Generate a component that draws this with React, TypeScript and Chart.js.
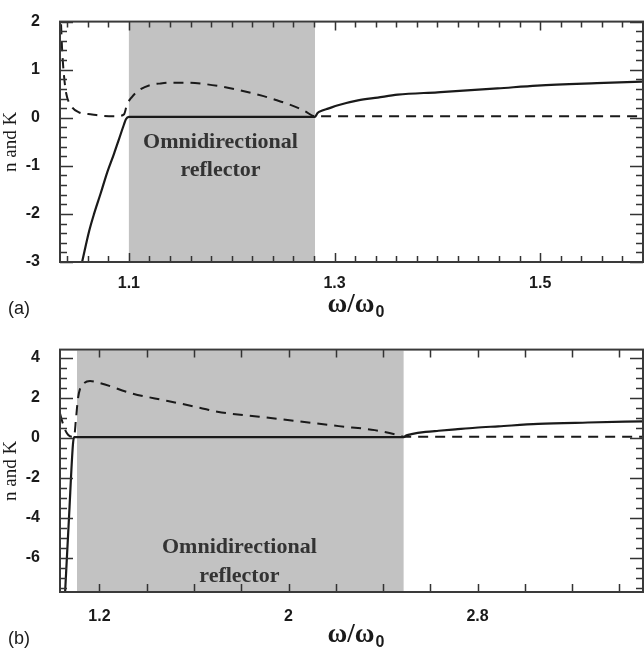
import React, { useEffect, useRef } from 'react';
import { Chart, registerables } from 'chart.js';

Chart.register(...registerables);

// ---------- Panel (a) data ----------
const aNx = [1.0545, 1.0613, 1.0661, 1.0729, 1.0787, 1.0855, 1.0903, 1.0952, 1.0971, 1.1, 1.2, 1.281, 1.2835, 1.288, 1.2937, 1.3034, 1.3228, 1.342, 1.3615, 1.4002, 1.4584, 1.497, 1.555, 1.599];
const aNy = [-3.0, -2.36, -2.0, -1.55, -1.15, -0.75, -0.45, -0.14, -0.03, 0.02, 0.02, 0.02, 0.1, 0.15, 0.19, 0.26, 0.36, 0.42, 0.48, 0.53, 0.61, 0.67, 0.72, 0.75];
const aKx = [1.0335, 1.0341, 1.0351, 1.037, 1.039, 1.0438, 1.0516, 1.0642, 1.0739, 1.0874, 1.0952, 1.0981, 1.1029, 1.1097, 1.1223, 1.129, 1.14, 1.155, 1.17, 1.19, 1.2065, 1.231, 1.243, 1.253, 1.265, 1.271, 1.281, 1.29, 1.6];
const aKy = [2.3, 1.9, 1.4, 0.85, 0.51, 0.25, 0.11, 0.07, 0.04, 0.03, 0.07, 0.27, 0.43, 0.57, 0.69, 0.71, 0.73, 0.73, 0.71, 0.65, 0.58, 0.45, 0.37, 0.3, 0.2, 0.14, 0.03, 0.03, 0.03];
const aBand = [1.1, 1.281];
const aXLabels = [1.1, 1.3, 1.5];
const aYLabels = [-3, -2, -1, 0, 1, 2];

// ---------- Panel (b) data ----------
const bNx = [1.0546, 1.071, 1.088, 1.093, 1.1, 2.487, 2.5, 2.52, 2.58, 2.635, 2.706, 2.79, 2.888, 3.056, 3.267, 3.499];
const bNy = [-7.7, -4.0, -0.3, 0.03, 0.03, 0.03, 0.12, 0.18, 0.29, 0.35, 0.42, 0.5, 0.57, 0.69, 0.76, 0.82];
const bKx = [1.0335, 1.042, 1.0546, 1.067, 1.084, 1.0925, 1.101, 1.109, 1.118, 1.135, 1.16, 1.202, 1.341, 1.484, 1.624, 1.699, 1.876, 2.045, 2.213, 2.365, 2.458, 2.487, 3.5];
const bKy = [1.2, 0.83, 0.39, 0.15, 0.05, 0.05, 1.0, 1.95, 2.45, 2.73, 2.83, 2.73, 2.2, 1.85, 1.5, 1.3, 1.05, 0.82, 0.58, 0.38, 0.15, 0.05, 0.05];
const bBand = [1.105, 2.487];
const bXLabels = [1.2, 2, 2.8];
const bYLabels = [-6, -4, -2, 0, 2, 4];

const bandText = ['Omnidirectional', 'reflector'];

type PanelCfg = {
  letter: string;
  xMin: number; xMax: number; yMin: number; yMax: number;
  nX: number[]; nY: number[]; kX: number[]; kY: number[];
  band: number[];
  xLabels: number[]; yLabels: number[];
  xMinorStart: number; xMinorStep: number; xMajor: number[];
  yMinorStart: number; yMinorStep: number; yMajor: number[];
  textX: number; textY: number[];
  padTop: number; xAxisH: number; xPad: number;
};

const panels: PanelCfg[] = [
  {
    letter: '(a)', xMin: 1.033, xMax: 1.6, yMin: -3, yMax: 2,
    nX: aNx, nY: aNy, kX: aKx, kY: aKy, band: aBand,
    xLabels: aXLabels, yLabels: aYLabels,
    xMinorStart: 1.04, xMinorStep: 0.02, xMajor: [1.1, 1.3, 1.5],
    yMinorStart: -3, yMinorStep: 0.2, yMajor: aYLabels,
    textX: 1.1891, textY: [-0.52, -1.09],
    padTop: 14, xAxisH: 66, xPad: 4,
  },
  {
    letter: '(b)', xMin: 1.033, xMax: 3.5, yMin: -7.7, yMax: 4.4,
    nX: bNx, nY: bNy, kX: bKx, kY: bKy, band: bBand,
    xLabels: bXLabels, yLabels: bYLabels,
    xMinorStart: 1.2, xMinorStep: 0.2, xMajor: [],
    yMinorStart: -7.5, yMinorStep: 0.5, yMajor: bYLabels,
    textX: 1.792, textY: [-5.46, -6.93],
    padTop: 16, xAxisH: 64, xPad: 7,
  },
];

const INK = '#1a1a1a';

function Panel({ cfg }: { cfg: PanelCfg }) {
  const ref = useRef<HTMLCanvasElement | null>(null);
  useEffect(() => {
    if (!ref.current) return;
    const decor = {
      id: 'decor',
      beforeDatasetsDraw(chart: any) {
        const { ctx, chartArea: ca, scales } = chart;
        const x = scales.x;
        ctx.save();
        ctx.fillStyle = '#c2c2c2';
        const x0 = x.getPixelForValue(cfg.band[0]);
        const x1 = x.getPixelForValue(cfg.band[1]);
        ctx.fillRect(x0, ca.top + 1, x1 - x0, ca.bottom - ca.top - 1);
        ctx.fillStyle = '#333';
        ctx.font = 'bold 22px "Liberation Serif"';
        ctx.textAlign = 'center';
        ctx.textBaseline = 'middle';
        const tx = x.getPixelForValue(cfg.textX);
        bandText.forEach((t, i) => ctx.fillText(t, tx, scales.y.getPixelForValue(cfg.textY[i])));
        ctx.restore();
      },
      afterDraw(chart: any) {
        const { ctx, chartArea: ca, scales } = chart;
        const x = scales.x, y = scales.y;
        ctx.save();
        ctx.strokeStyle = '#333';
        ctx.lineWidth = 1.5;
        for (let v = cfg.xMinorStart; v <= cfg.xMax + 1e-9; v += cfg.xMinorStep) {
          const px = Math.round(x.getPixelForValue(v)) + 0.5;
          const major = cfg.xMajor.some((m) => Math.abs(m - v) < 1e-6);
          const len = cfg.xMajor.length ? (major ? 9 : 6) : 8;
          ctx.beginPath();
          ctx.moveTo(px, ca.bottom); ctx.lineTo(px, ca.bottom - len);
          ctx.moveTo(px, ca.top); ctx.lineTo(px, ca.top + len);
          ctx.stroke();
        }
        for (let v = cfg.yMinorStart; v <= cfg.yMax + 1e-9; v += cfg.yMinorStep) {
          const py = Math.round(y.getPixelForValue(v)) + 0.5;
          const major = cfg.yMajor.some((m) => Math.abs(m - v) < 1e-6);
          const len = major ? 13 : 7;
          ctx.beginPath();
          ctx.moveTo(ca.left, py); ctx.lineTo(ca.left + len, py);
          ctx.moveTo(ca.right, py); ctx.lineTo(ca.right - len, py);
          ctx.stroke();
        }
        ctx.lineWidth = 2;
        ctx.strokeStyle = '#3a3a3a';
        ctx.strokeRect(ca.left, ca.top, ca.right - ca.left, ca.bottom - ca.top);
        // x title  ω/ω0
        const cx = (ca.left + ca.right) / 2 + 4;
        const cy = ca.bottom + 44;
        ctx.fillStyle = INK;
        ctx.textBaseline = 'alphabetic';
        ctx.font = 'bold 27px "Liberation Serif"';
        const main = 'ω/ω';
        const mw = ctx.measureText(main).width;
        ctx.font = 'bold 16px "Liberation Sans"';
        const sw = ctx.measureText('0').width;
        const start = cx - (mw + sw) / 2;
        ctx.font = 'bold 27px "Liberation Serif"';
        ctx.textAlign = 'left';
        ctx.fillText(main, start, cy + 6);
        ctx.font = 'bold 16px "Liberation Sans"';
        ctx.fillText('0', start + mw + 1, cy + 11);
        ctx.font = '18px "Liberation Sans"';
        ctx.textBaseline = 'middle';
        ctx.fillText(cfg.letter, 8, ca.bottom + 47);
        ctx.restore();
      },
    };
    const mk = (xs: number[], ys: number[]) => xs.map((v, i) => ({ x: v, y: ys[i] }));
    const chart = new Chart(ref.current, {
      type: 'line',
      data: {
        datasets: [
          { label: 'n', data: mk(cfg.nX, cfg.nY), borderColor: INK, borderWidth: 2.2, pointRadius: 0, fill: false, cubicInterpolationMode: 'monotone' },
          { label: 'K', data: mk(cfg.kX, cfg.kY), borderColor: INK, borderWidth: 2, borderDash: [10, 7], pointRadius: 0, fill: false, cubicInterpolationMode: 'monotone' },
        ],
      },
      options: {
        responsive: false,
        animation: false,
        events: [],
        layout: { padding: { top: cfg.padTop, right: 1, left: 0, bottom: 0 } },
        plugins: { legend: { display: false }, tooltip: { enabled: false } },
        scales: {
          x: {
            type: 'linear', min: cfg.xMin, max: cfg.xMax,
            grid: { display: false }, border: { display: false },
            ticks: { color: INK, font: { family: 'Liberation Sans', size: 16, weight: 'bold' }, padding: cfg.xPad, maxRotation: 0, autoSkip: false, callback: (v: any) => String(v) },
            afterBuildTicks: (s: any) => { s.ticks = cfg.xLabels.map((v) => ({ value: v })); },
            afterFit: (s: any) => { s.height = cfg.xAxisH; },
          },
          y: {
            type: 'linear', min: cfg.yMin, max: cfg.yMax,
            grid: { display: false }, border: { display: false },
            ticks: { color: INK, font: { family: 'Liberation Sans', size: 16, weight: 'bold' }, padding: 12, callback: (v: any) => String(v) },
            afterBuildTicks: (s: any) => { s.ticks = cfg.yLabels.map((v) => ({ value: v })); },
            afterFit: (s: any) => { s.width = 60; },
            title: { display: true, text: 'n and K', color: INK, font: { family: 'Liberation Serif', size: 19 }, padding: { top: 0, bottom: 0 } },
          },
        },
      },
      plugins: [decor],
    } as any);
    return () => chart.destroy();
  }, [cfg]);
  return <canvas ref={ref} width={644} height={328} style={{ display: 'block' }} />;
}

export default function App() {
  useEffect(() => {
    document.body.style.margin = '0';
  }, []);
  return (
    <div style={{ width: 644, height: 656, background: '#fff' }}>
      {panels.map((p) => (
        <Panel key={p.letter} cfg={p} />
      ))}
    </div>
  );
}
